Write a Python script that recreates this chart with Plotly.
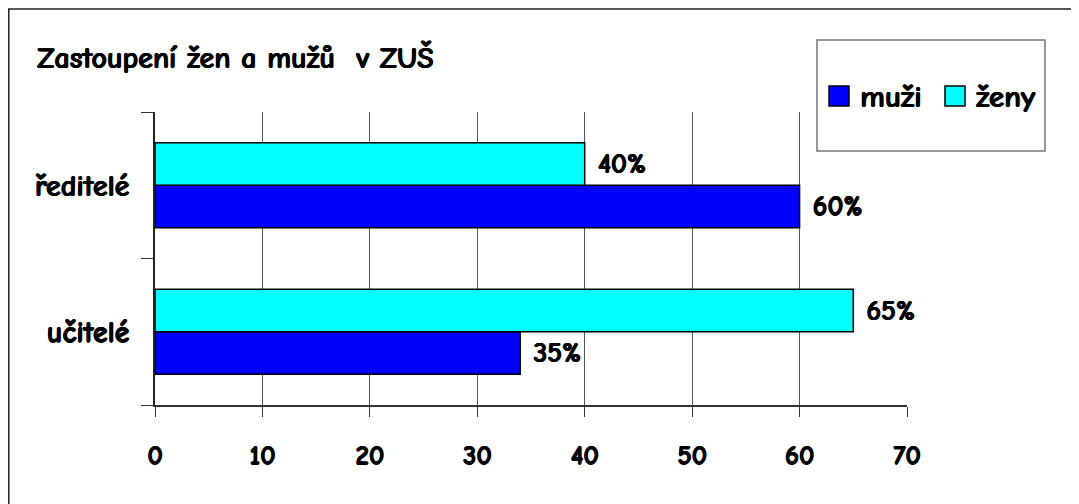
import plotly.graph_objects as go

categories = ["učitelé", "ředitelé"]
muzi_values = [34, 60]
zeny_values = [65, 40]
muzi_labels = ["35%", "60%"]
zeny_labels = ["65%", "40%"]
x_ticks = [0, 10, 20, 30, 40, 50, 60, 70]
title_text = "Zastoupení žen a mužů  v ZUŠ"
series_names = ["muži", "ženy"]
series_colors = ["#0000FF", "#00FFFF"]

FONT = "Comic Sans MS, Comic Neue, Lato, sans-serif"
SH = "0.7px 0 0 black, -0.3px 0 0 black, 0 0.4px 0 black"

# page offset (body margin) of 8 px
OFF = 8
W, H = 1079 - OFF, 504 - OFF
L, R, T, B = 155 - OFF, 907 - OFF, 112 - OFF, 405 - OFF
pw, ph = R - L, B - T

def px(x):
    return (x - OFF - L) / pw

def py(y):
    return (B - (y - OFF)) / ph

def bold(s):
    return "<b>" + s + "</b>"

def f(size):
    return dict(family=FONT, size=size, color="black", weight="bold", shadow=SH)

fig = go.Figure()
for name, color, vals, labels in [
    (series_names[0], series_colors[0], muzi_values, muzi_labels),
    (series_names[1], series_colors[1], zeny_values, zeny_labels),
]:
    fig.add_trace(go.Bar(
        y=categories, x=vals, name=name, orientation="h",
        marker=dict(color=color, line=dict(color="black", width=1.5)),
        text=[" " + bold(t) for t in labels], textposition="outside",
        textfont=f(28), cliponaxis=False, showlegend=False,
    ))

shapes = [
    dict(type="rect", xref="paper", yref="paper",
         x0=px(8.8), x1=px(1090), y0=py(515), y1=py(9),
         line=dict(color="#222222", width=1.5), fillcolor="rgba(0,0,0,0)", layer="below"),
    dict(type="rect", xref="paper", yref="paper",
         x0=px(817), x1=px(1045), y0=py(151), y1=py(40),
         line=dict(color="#777777", width=1.5), fillcolor="white", layer="above"),
]
annotations = [
    dict(text=bold(title_text), xref="paper", yref="paper", x=px(35), y=py(58),
         xanchor="left", yanchor="middle", showarrow=False, font=f(30)),
]
# manual legend
for i, (name, color) in enumerate(zip(series_names, series_colors)):
    sx = 829 + i * 116
    shapes.append(dict(type="rect", xref="paper", yref="paper",
                       x0=px(sx), x1=px(sx + 20), y0=py(106), y1=py(86),
                       line=dict(color="black", width=1.5), fillcolor=color, layer="above"))
    annotations.append(dict(text=bold(name), xref="paper", yref="paper",
                            x=px(sx + 29), y=py(97), xanchor="left", yanchor="middle",
                            showarrow=False, font=f(31)))

fig.update_layout(
    width=W, height=H,
    margin=dict(l=L, r=W - R, t=T, b=H - B, pad=0),
    paper_bgcolor="white", plot_bgcolor="white",
    barmode="group", bargap=0.42, bargroupgap=0,
    font=f(24),
    showlegend=False,
    xaxis=dict(
        range=[0, 70], tickvals=x_ticks, ticktext=[bold(str(v)) for v in x_ticks],
        showgrid=True, gridcolor="#555555", gridwidth=1,
        showline=True, linecolor="#333333", linewidth=1.5,
        ticks="outside", ticklen=10, tickcolor="#333333", tickwidth=1,
        tickfont=f(27), ticklabelstandoff=15, zeroline=False, fixedrange=True,
    ),
    yaxis=dict(
        range=[-0.5, 1.5], showgrid=False, showline=True, linecolor="#222222", linewidth=1.5,
        ticks="outside", tickson="boundaries", ticklen=12, tickcolor="#333333",
        tickvals=categories, ticktext=[bold(c) for c in categories],
        tickfont=f(30), ticklabelstandoff=18, fixedrange=True,
    ),
    shapes=shapes,
    annotations=annotations,
)

fig.write_html("out.html")
